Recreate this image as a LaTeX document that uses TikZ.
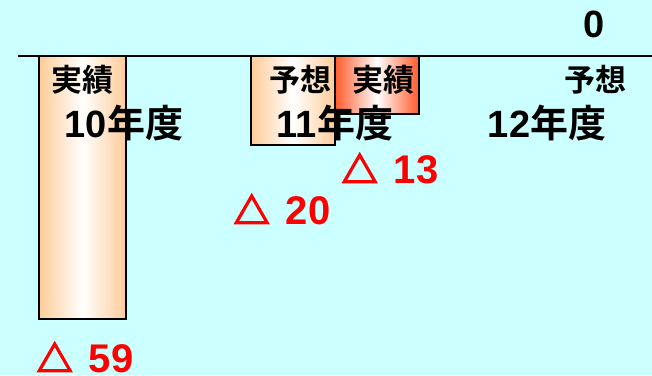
\documentclass[tikz,border=0pt]{standalone}
\usepackage{fontspec}
\setmainfont{Liberation Sans}
\newfontfamily\jp{Noto Sans CJK JP}[BoldFont={Noto Sans CJK JP Bold}]
\newfontfamily\trifont{Noto Sans CJK JP}[FakeBold=4]
\usetikzlibrary{backgrounds}
\definecolor{sky}{HTML}{CCFFFF}
\definecolor{peach}{HTML}{FFCC99}
\definecolor{flame}{HTML}{FF5A2A}
\newcommand{\tri}{{\trifont\fontsize{36}{36}\selectfont △}\hspace{5pt}}
\begin{document}
\begin{tikzpicture}[x=1pt, y=-1pt,
    bar/.style={draw=black, line width=1.3pt},
    kind/.style={anchor=base, font=\jp\bfseries\fontsize{31}{31}\selectfont},
    year/.style={anchor=base, font=\bfseries\fontsize{38}{38}\selectfont},
    diff/.style={anchor=base, text=red, font=\bfseries\fontsize{40}{40}\selectfont},
    ]
    \fill[sky] (0,0) rectangle (652,375);
    \useasboundingbox (0,0) rectangle (652,375);
    % bars
    \shade[bar, left color=peach, right color=peach, middle color=white] (39,56) rectangle (126,319);
    \shade[bar, left color=peach, right color=peach, middle color=white] (251,56) rectangle (335,145);
    \shade[bar, left color=flame, right color=flame, middle color=white] (335,56) rectangle (419,114);
    % axis
    \draw[line width=1.3pt] (18,56) -- (652,56);
    \node[year] (zero) at (594,37) {0};
    % labels
    \node[kind] (act10) at (82,91) {実績};
    \node[year] (fy10) at (124,137) {10{\jp 年度}};
    \node[kind] (plan11) at (300,91) {予想};
    \node[kind] (act11) at (383,91) {実績};
    \node[year] (fy11) at (335,137) {11{\jp 年度}};
    \node[kind] (plan12) at (595,91) {予想};
    \node[year] (fy12) at (547,137) {12{\jp 年度}};
    % values
    \node[diff] (val10) at (85,372) {\tri{} 59};
    \node[diff] (val11p) at (282,224) {\tri{} 20};
    \node[diff] (val11a) at (390,183) {\tri{} 13};
\end{tikzpicture}
\end{document}
